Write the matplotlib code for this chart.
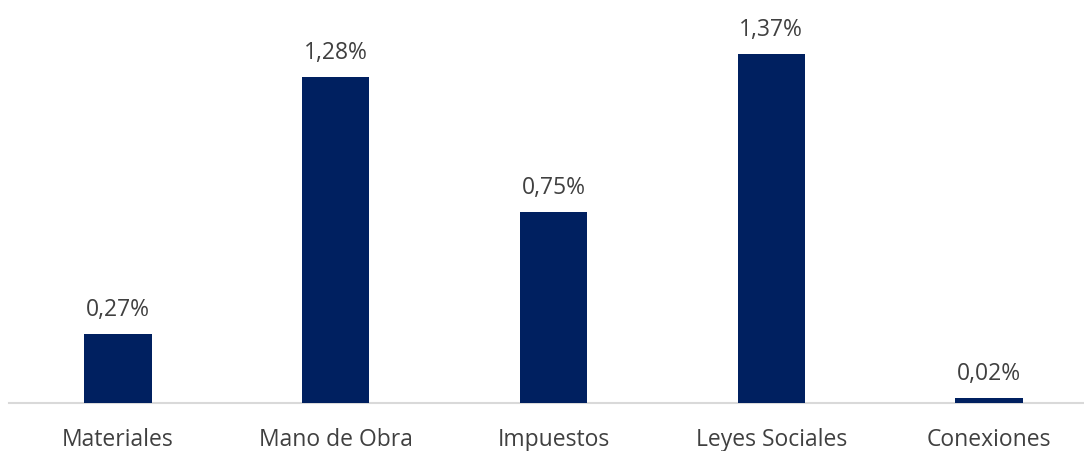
import matplotlib.pyplot as plt

categories = ["Materiales", "Mano de Obra", "Impuestos", "Leyes Sociales", "Conexiones"]
values = [0.27, 1.28, 0.75, 1.37, 0.02]
value_labels = ["0,27%", "1,28%", "0,75%", "1,37%", "0,02%"]

plt.rcParams['font.family'] = ['Open Sans', 'DejaVu Sans']

fig = plt.figure(figsize=(10.84, 4.52), dpi=100)
ax = fig.add_axes([9 / 1084, 48 / 452, 1089 / 1084, 404 / 452])

x = list(range(len(categories)))
bars = ax.bar(x, values, width=0.31, color="#002060", zorder=3)

ax.set_xlim(-0.5, 4.5)
ax.set_ylim(0, 404 / 254.7)

# value labels above each bar
for bar, lab in zip(bars, value_labels):
    ax.annotate(lab, (bar.get_x() + bar.get_width() / 2, bar.get_height()),
                xytext=(0, 19), textcoords="offset pixels",
                ha="center", va="baseline", fontsize=16.5, color="#404040")

ax.set_xticks(x)
ax.set_xticklabels(categories, fontsize=16.5, color="#404040")
ax.tick_params(axis="x", length=0, pad=17)
ax.set_yticks([])

for s in ["top", "right", "left"]:
    ax.spines[s].set_visible(False)
ax.spines["bottom"].set_color("#d9d9d9")
ax.spines["bottom"].set_linewidth(1.5)

fig.savefig("out.png", dpi=100)
